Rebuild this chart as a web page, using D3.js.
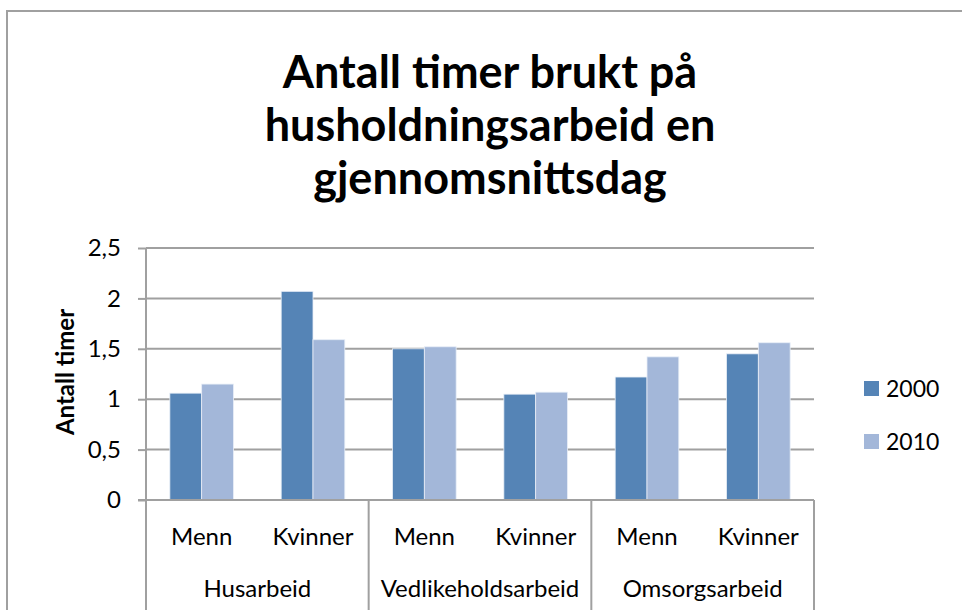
<!DOCTYPE html>
<html><head><meta charset="utf-8">
<script src="https://cdn.jsdelivr.net/npm/d3@7"></script>
<style>body{margin:0;background:#fff}svg{display:block}text{font-family:Lato,"Open Sans",sans-serif}</style>
</head><body><svg id="c" width="962" height="610"></svg>
<script>
const groups = ["Husarbeid","Vedlikeholdsarbeid","Omsorgsarbeid"];
const subs = ["Menn","Kvinner"];
const series = ["2000","2010"];
const values2000 = [1.06, 2.07, 1.50, 1.05, 1.22, 1.45];
const values2010 = [1.15, 1.59, 1.52, 1.07, 1.42, 1.56];
const yTicks = [0,0.5,1,1.5,2,2.5];
const colors = ["#5584b6","#a3b7d9"];
const titleLines = ["Antall timer brukt på","husholdningsarbeid en","gjennomsnittsdag"];

const svg = d3.select("#c");
const L=146,R=814,T=248,B=500;
svg.append("path").attr("d","M7,620 V11 H970").attr("fill","none").attr("stroke","#a0a0a0").attr("stroke-width",2);

const cats = [];
groups.forEach(g=>subs.forEach(s=>cats.push(g+"|"+s)));
const x = d3.scaleBand().domain(cats).range([L,R]);
const y = d3.scaleLinear().domain([0,2.5]).range([B,T]);

svg.append("g").selectAll("line").data(yTicks.filter(d=>d>0)).join("line")
 .attr("x1",L).attr("x2",R).attr("y1",d=>y(d)).attr("y2",d=>y(d))
 .attr("stroke","#a0a0a0").attr("stroke-width",2);

const data = [];
cats.forEach((c,i)=>{ data.push({c,s:"2000",v:values2000[i]}); data.push({c,s:"2010",v:values2010[i]}); });
const bw = x.bandwidth()/3.5;
svg.append("g").selectAll("rect").data(data).join("rect")
 .attr("x",d=>x(d.c)+x.bandwidth()/2 + (d.s==="2000"?-bw:0))
 .attr("width",bw)
 .attr("y",d=>y(d.v)).attr("height",d=>y(0)-y(d.v))
 .attr("fill",d=>colors[series.indexOf(d.s)])
 .attr("stroke","#e8eef7").attr("stroke-width",0.8);

const yAxis = d3.axisLeft(y).tickValues(yTicks).tickSize(8).tickPadding(17)
 .tickFormat(d=>String(d).replace(".",","));
const ga = svg.append("g").attr("transform",`translate(${L},0)`).call(yAxis);
ga.select(".domain").remove();
ga.selectAll(".tick line").attr("stroke","#a0a0a0").attr("stroke-width",2);
ga.selectAll(".tick text").attr("font-size",24).attr("fill","#000").attr("font-family","Lato,sans-serif");
svg.append("line").attr("x1",L).attr("x2",L).attr("y1",T).attr("y2",610).attr("stroke","#a0a0a0").attr("stroke-width",2);

svg.append("line").attr("x1",L-8).attr("x2",R).attr("y1",B).attr("y2",B).attr("stroke","#a0a0a0").attr("stroke-width",2);
const gw = (R-L)/groups.length;
groups.forEach((g,i)=>{
  const xr = L+gw*(i+1);
  svg.append("line").attr("x1",xr).attr("x2",xr).attr("y1",B).attr("y2",610).attr("stroke","#a0a0a0").attr("stroke-width",2);
  svg.append("text").attr("x",L+gw*(i+0.5)).attr("y",597).attr("text-anchor","middle").attr("font-size",24).text(g);
});
svg.append("g").selectAll("text").data(cats).join("text")
 .attr("x",d=>x(d)+x.bandwidth()/2).attr("y",545).attr("text-anchor","middle").attr("font-size",24)
 .text(d=>d.split("|")[1]);

svg.append("text").attr("transform","translate(74,372) rotate(-90)").attr("text-anchor","middle")
 .attr("font-size",24).attr("font-weight","bold").text("Antall timer");

svg.append("g").selectAll("text").data(titleLines).join("text")
 .attr("x",490).attr("y",(d,i)=>88+i*53).attr("text-anchor","middle")
 .attr("font-size",45).attr("font-weight","bold").text(d=>d);

series.forEach((s,i)=>{
  svg.append("rect").attr("x",864).attr("y",381+i*53).attr("width",15).attr("height",15).attr("fill",colors[i]);
  svg.append("text").attr("x",886).attr("y",397+i*53).attr("font-size",23).text(s);
});
</script></body></html>
